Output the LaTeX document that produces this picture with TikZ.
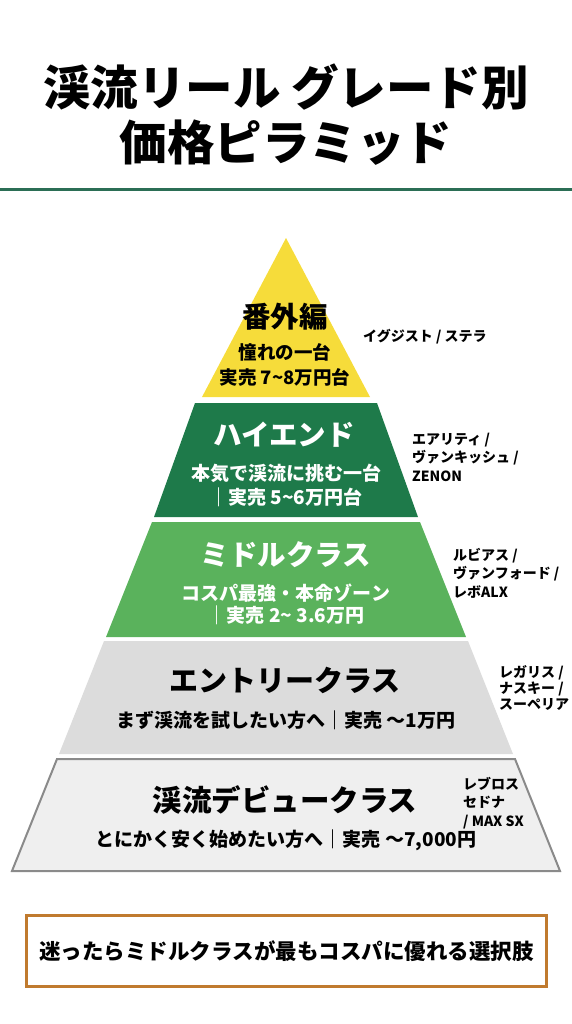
\documentclass[tikz,border=0pt]{standalone}
\usepackage{fontspec}
\setmainfont{Noto Sans CJK JP}
\usetikzlibrary{positioning}

\definecolor{rulegreen}{HTML}{2B6E55}
\definecolor{topyellow}{HTML}{F6DC3A}
\definecolor{highgreen}{HTML}{1E7A4A}
\definecolor{midgreen}{HTML}{5AB25C}
\definecolor{entrygray}{HTML}{DCDCDC}
\definecolor{debutgray}{HTML}{EFEFEF}
\definecolor{debutline}{HTML}{8A8A8A}
\definecolor{noteorange}{HTML}{C07A2E}

\begin{document}
\begin{tikzpicture}[
        x=1pt, y=-1pt,
        title/.style={font=\fontsize{47.5}{55}\selectfont\bfseries, align=center},
        tier/.style={font=\fontsize{28.5}{32}\selectfont\bfseries, inner sep=0pt},
        sub/.style={font=\fontsize{19}{24}\selectfont\bfseries, align=center, inner sep=0pt},
        model/.style={font=\fontsize{14}{18.5}\selectfont\bfseries, align=left, anchor=west, inner sep=0pt},
        note/.style={draw=noteorange, line width=2.5pt, fill=white, minimum width=520pt, minimum height=71pt, font=\fontsize{21.5}{26}\selectfont\bfseries}
      ]
      \useasboundingbox (0,0) rectangle (572,1024);

      % Title
      \node[title] (title) at (286,115) {渓流リール グレード別\\価格ピラミッド};
      \draw[rulegreen, line width=3pt] (0,190) -- (572,190);

      % Pyramid layers
      \fill[topyellow] (286,238) -- (370,397) -- (202,397) -- cycle;
      \fill[highgreen] (195,403) -- (377,403) -- (418,517) -- (154,517) -- cycle;
      \fill[midgreen] (152,522) -- (420,522) -- (466,637) -- (106,637) -- cycle;
      \fill[entrygray] (104,641) -- (468,641) -- (513,754) -- (59,754) -- cycle;
      \filldraw[fill=debutgray, draw=debutline, line width=2pt] (57,759) -- (515,759) -- (560,871) -- (12,871) -- cycle;

      % Top: special
      \node[tier] (special) at (285,317) {番外編};
      \node[sub, font=\fontsize{18.5}{25}\selectfont\bfseries] (specialsub) at (285,365) {憧れの一台\\実売 7\textasciitilde8万円台};
      \node[model] (specialmod) at (363,337) {イグジスト / ステラ};

      % High end
      \node[tier, text=white] (high) at (284,435) {ハイエンド};
      \node[sub, text=white] (highsub) at (286,485) {本気で渓流に挑む一台\\｜実売 5\textasciitilde6万円台};
      \node[model] (highmod) at (412,457) {エアリティ /\\ヴァンキッシュ /\\ZENON};

      % Middle class
      \node[tier, text=white] (mid) at (286,555) {ミドルクラス};
      \node[sub, text=white, font=\fontsize{19}{22}\selectfont\bfseries] (midsub) at (286,604) {コスパ最強・本命ゾーン\\｜実売 2\textasciitilde{} 3.6万円};
      \node[model] (midmod) at (453,573) {ルビアス /\\ヴァンフォード /\\レボALX};

      % Entry class
      \node[tier, font=\fontsize{29}{32}\selectfont\bfseries] (entry) at (285,680) {エントリークラス};
      \node[sub] (entrysub) at (286,720) {まず渓流を試したい方へ｜実売 〜1万円};
      \node[model, font=\fontsize{14}{16}\selectfont\bfseries] (entrymod) at (499,688) {レガリス /\\ナスキー /\\スーペリア};

      % Debut class
      \node[tier, font=\fontsize{29.5}{32}\selectfont\bfseries] (debut) at (285,800) {渓流デビュークラス};
      \node[sub] (debutsub) at (286,840) {とにかく安く始めたい方へ｜実売 〜7,000円};
      \node[model] (debutmod) at (463,803) {レブロス\\セドナ\\/ MAX SX};

      % Bottom note
      \node[note] (advice) at (286.5,951) {迷ったらミドルクラスが最もコスパに優れる選択肢};

    \end{tikzpicture}
\end{document}
